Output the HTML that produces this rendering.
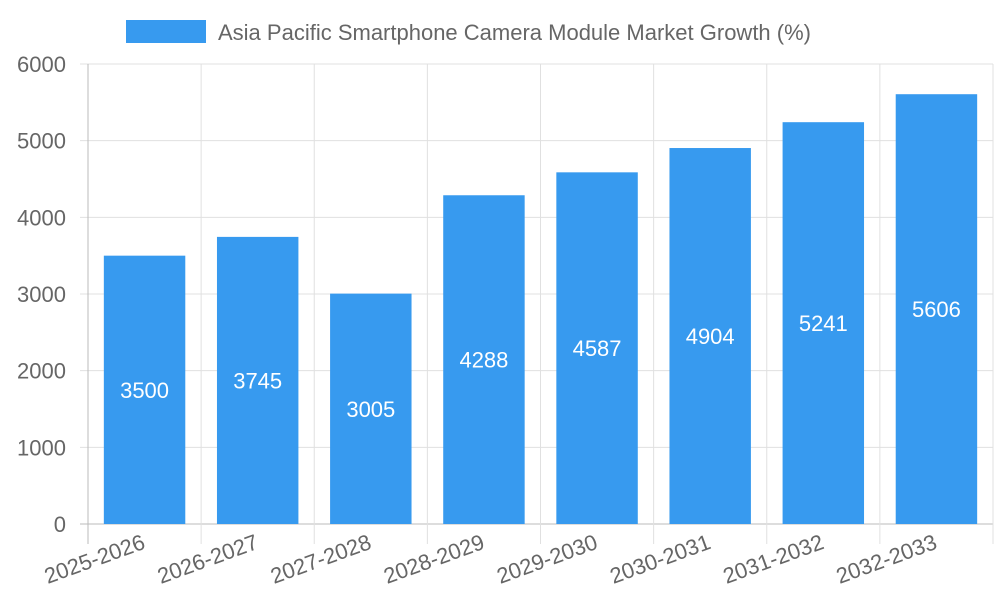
<!DOCTYPE html>
<html><head><meta charset="utf-8"><style>
body{margin:0;background:#fff;}
svg text{font-family:"Liberation Sans",sans-serif;}
</style></head><body>
<svg width="1000" height="600">
<g>
<rect x="126" y="20" width="80" height="23" fill="#379aef"/>
<text x="218" y="40" font-size="22" fill="#666">Asia Pacific Smartphone Camera Module Market Growth (%)</text>
</g>
<g id="grid"></g><g id="bars"></g><g id="axes"></g>
</svg>
<script>
const categories=["2025-2026","2026-2027","2027-2028","2028-2029","2029-2030","2030-2031","2031-2032","2032-2033"];
const values=[3500,3745,3005,4288,4587,4904,5241,5606];
const yTicks=[0,1000,2000,3000,4000,5000,6000];
const X0=88,X1=993,Y0=524,Y1=64,YMAX=6000;
const bw=(X1-X0)/categories.length;
const y=v=>Y0-(v/YMAX)*(Y0-Y1);
const x=i=>X0+i*bw;
const NS="http://www.w3.org/2000/svg";
function mk(t,a,p){const e=document.createElementNS(NS,t);for(const k in a)e.setAttribute(k,a[k]);p.appendChild(e);return e;}
const grid=document.getElementById('grid'),bars=document.getElementById('bars'),axes=document.getElementById('axes');
yTicks.forEach(t=>{
const l=mk('line',{x1:X0-8,x2:X1,y1:y(t),y2:y(t),stroke:t===0?'#bbb':'#e0e0e0','stroke-width':1},grid);


const tx=mk('text',{x:66,y:y(t)+8,'font-size':22,fill:'#666','text-anchor':'end'},axes);
tx.textContent=t;


});
for(let i=0;i<=categories.length;i++){
const l=mk('line',{x1:x(i),x2:x(i),y1:Y1,y2:Y0+20,stroke:i===0?'#bbb':'#e0e0e0','stroke-width':1},grid);


}
categories.forEach((c,i)=>{
const w=bw*0.72,bx=x(i)+(bw-w)/2;
const r=mk('rect',{x:bx,y:y(values[i]),width:w,height:Y0-y(values[i]),fill:'#379aef'},bars);


const t=mk('text',{x:bx+w/2,y:(y(values[i])+Y0)/2+8,'font-size':22,fill:'#fff','text-anchor':'middle'},bars);
t.textContent=values[i];


const cx=x(i)+bw/2+2,cy=Y0+24;
const lt=mk('text',{x:cx,y:cy,'font-size':22,fill:'#666','text-anchor':'end',transform:`rotate(-20 ${cx} ${cy})`},axes);
lt.textContent=c;


});
</script>
</body></html>
